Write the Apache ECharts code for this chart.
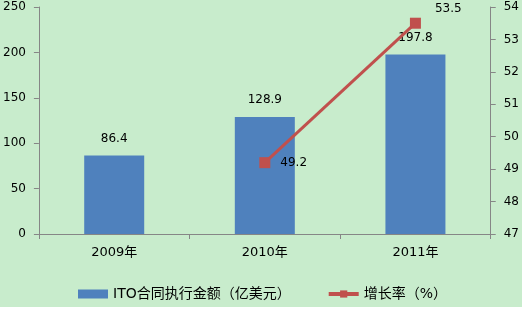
<!DOCTYPE html>
<html><head><meta charset="utf-8">
<script src="https://cdn.jsdelivr.net/npm/echarts@6/dist/echarts.min.js"></script>
<style>html,body{margin:0;padding:0;background:#fff}#c{width:522px;height:307px;background:#C8ECCC}</style>
</head><body><div id="c"></div>
<script>
var categories = ['2009年', '2010年', '2011年'];
var amounts = [86.4, 128.9, 197.8];
var growth = [null, 49.2, 53.5];
var leftTicks = [0, 50, 100, 150, 200, 250];
var rightTicks = [47, 48, 49, 50, 51, 52, 53, 54];
var barName = 'ITO合同执行金额（亿美元）';
var lineName = '增长率（%）';

var chart = echarts.init(document.getElementById('c'));
var font = '"DejaVu Sans", "Noto Sans CJK SC", sans-serif';
chart.setOption({
  backgroundColor: '#C8ECCC',
  animation: false,
  textStyle: {fontFamily: font},
  grid: {left: 37, right: 31, top: 7, bottom: 73, containLabel: false},
  legend: {
    bottom: 1, left: 73, itemGap: 36, itemWidth: 30, itemHeight: 9,
    textStyle: {fontSize: 14, color: '#000', fontFamily: font},
    data: [
      {name: barName, icon: 'rect'},
      {name: lineName, lineStyle: {width: 4}, itemStyle: {color: '#C0504D'}}
    ]
  },
  xAxis: {
    type: 'category', data: categories,
    axisLine: {lineStyle: {color: '#868686'}},
    axisTick: {show: true, length: 5, lineStyle: {color: '#868686'}},
    axisLabel: {color: '#000', fontSize: 13, margin: 12, fontFamily: font}
  },
  yAxis: [{
    type: 'value', min: leftTicks[0], max: leftTicks[leftTicks.length - 1], interval: 50,
    axisLine: {show: true, lineStyle: {color: '#868686'}},
    axisTick: {show: true, length: 5, lineStyle: {color: '#868686'}},
    axisLabel: {color: '#000', fontSize: 12, margin: 13, fontFamily: font},
    splitLine: {show: false}
  }, {
    type: 'value', min: rightTicks[0], max: rightTicks[rightTicks.length - 1], interval: 1,
    position: 'right',
    axisLine: {show: true, lineStyle: {color: '#868686'}},
    axisTick: {show: true, length: 5, lineStyle: {color: '#868686'}},
    axisLabel: {color: '#000', fontSize: 12, margin: 13, fontFamily: font},
    splitLine: {show: false}
  }],
  series: [{
    name: barName, type: 'bar', data: amounts, barWidth: 60,
    itemStyle: {color: '#4F81BD'},
    label: {show: true, position: 'top', distance: 11, color: '#000', fontSize: 12, fontFamily: font}
  }, {
    name: lineName, type: 'line', yAxisIndex: 1, data: growth,
    symbol: 'rect', symbolSize: 11,
    lineStyle: {color: '#C0504D', width: 3},
    itemStyle: {color: '#C0504D'},
    label: {show: true, position: 'right', distance: 10, color: '#000', fontSize: 12, fontFamily: font},
    labelLayout: function (p) {
      return p.dataIndex === 2 ? {dx: 4, dy: -14} : {};
    }
  }]
});
</script></body></html>
